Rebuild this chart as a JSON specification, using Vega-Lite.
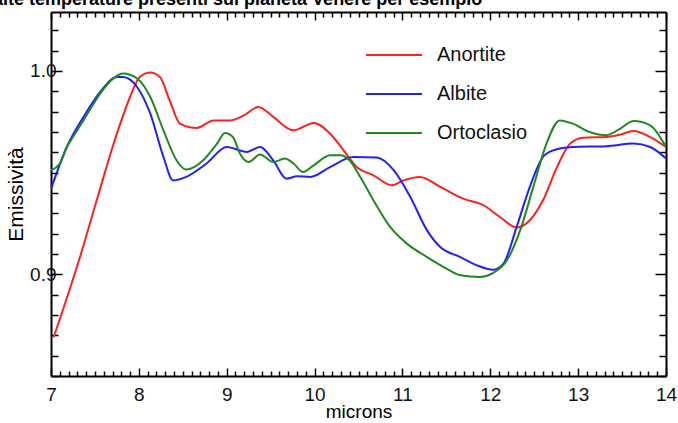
{
  "$schema": "https://vega.github.io/schema/vega-lite/v6.json",
  "width": 615,
  "height": 364,
  "autosize": {"type": "none"},
  "padding": {"left": 51, "top": 12, "right": 12, "bottom": 47},
  "background": "white",
  "title": {
    "text": "alte temperature presenti sul pianeta Venere per esempio",
    "anchor": "start",
    "orient": "top",
    "frame": "group",
    "offset": 0,
    "dy": -2,
    "dx": -58,
    "font": "Liberation Sans",
    "fontSize": 18,
    "fontWeight": "bold",
    "color": "#000000"
  },
  "config": {
    "view": {"stroke": null},
    "axis": {
      "domainColor": "#000000",
      "domainWidth": 2,
      "tickColor": "#000000",
      "tickWidth": 1.5,
      "labelFont": "Liberation Sans",
      "labelFontSize": 19,
      "labelColor": "#111111",
      "titleFont": "Liberation Sans",
      "titleFontSize": 20,
      "titleFontWeight": "normal",
      "titleColor": "#000000",
      "grid": false
    }
  },
  "data": {
    "values": [
      {"m": 7.03, "v": 0.869, "s": "Anortite"},
      {"m": 7.33, "v": 0.9085, "s": "Anortite"},
      {"m": 7.52, "v": 0.9364, "s": "Anortite"},
      {"m": 7.75, "v": 0.9692, "s": "Anortite"},
      {"m": 7.9, "v": 0.9872, "s": "Anortite"},
      {"m": 8.01, "v": 0.997, "s": "Anortite"},
      {"m": 8.13, "v": 0.9992, "s": "Anortite"},
      {"m": 8.24, "v": 0.997, "s": "Anortite"},
      {"m": 8.35, "v": 0.9856, "s": "Anortite"},
      {"m": 8.47, "v": 0.974, "s": "Anortite"},
      {"m": 8.66, "v": 0.972, "s": "Anortite"},
      {"m": 8.85, "v": 0.9757, "s": "Anortite"},
      {"m": 9.04, "v": 0.9757, "s": "Anortite"},
      {"m": 9.19, "v": 0.978, "s": "Anortite"},
      {"m": 9.36, "v": 0.9823, "s": "Anortite"},
      {"m": 9.53, "v": 0.9774, "s": "Anortite"},
      {"m": 9.76, "v": 0.9708, "s": "Anortite"},
      {"m": 9.99, "v": 0.9744, "s": "Anortite"},
      {"m": 10.18, "v": 0.969, "s": "Anortite"},
      {"m": 10.33, "v": 0.961, "s": "Anortite"},
      {"m": 10.48, "v": 0.9528, "s": "Anortite"},
      {"m": 10.67, "v": 0.9487, "s": "Anortite"},
      {"m": 10.88, "v": 0.9438, "s": "Anortite"},
      {"m": 11.01, "v": 0.9462, "s": "Anortite"},
      {"m": 11.2, "v": 0.9479, "s": "Anortite"},
      {"m": 11.43, "v": 0.943, "s": "Anortite"},
      {"m": 11.69, "v": 0.9372, "s": "Anortite"},
      {"m": 11.92, "v": 0.934, "s": "Anortite"},
      {"m": 12.11, "v": 0.9282, "s": "Anortite"},
      {"m": 12.3, "v": 0.923, "s": "Anortite"},
      {"m": 12.45, "v": 0.9266, "s": "Anortite"},
      {"m": 12.6, "v": 0.9364, "s": "Anortite"},
      {"m": 12.76, "v": 0.9528, "s": "Anortite"},
      {"m": 12.91, "v": 0.9643, "s": "Anortite"},
      {"m": 13.06, "v": 0.9672, "s": "Anortite"},
      {"m": 13.32, "v": 0.9675, "s": "Anortite"},
      {"m": 13.48, "v": 0.9687, "s": "Anortite"},
      {"m": 13.63, "v": 0.9705, "s": "Anortite"},
      {"m": 13.82, "v": 0.9675, "s": "Anortite"},
      {"m": 14.0, "v": 0.9626, "s": "Anortite"},

      {"m": 7.0, "v": 0.942, "s": "Albite"},
      {"m": 7.18, "v": 0.9626, "s": "Albite"},
      {"m": 7.37, "v": 0.9774, "s": "Albite"},
      {"m": 7.56, "v": 0.9897, "s": "Albite"},
      {"m": 7.75, "v": 0.997, "s": "Albite"},
      {"m": 7.82, "v": 0.997, "s": "Albite"},
      {"m": 7.98, "v": 0.9921, "s": "Albite"},
      {"m": 8.13, "v": 0.979, "s": "Albite"},
      {"m": 8.28, "v": 0.9577, "s": "Albite"},
      {"m": 8.39, "v": 0.9462, "s": "Albite"},
      {"m": 8.54, "v": 0.9479, "s": "Albite"},
      {"m": 8.77, "v": 0.9545, "s": "Albite"},
      {"m": 9.0, "v": 0.9626, "s": "Albite"},
      {"m": 9.23, "v": 0.9602, "s": "Albite"},
      {"m": 9.38, "v": 0.9626, "s": "Albite"},
      {"m": 9.53, "v": 0.956, "s": "Albite"},
      {"m": 9.68, "v": 0.947, "s": "Albite"},
      {"m": 9.8, "v": 0.9482, "s": "Albite"},
      {"m": 9.95, "v": 0.9479, "s": "Albite"},
      {"m": 10.18, "v": 0.9528, "s": "Albite"},
      {"m": 10.44, "v": 0.9577, "s": "Albite"},
      {"m": 10.71, "v": 0.9574, "s": "Albite"},
      {"m": 10.9, "v": 0.9512, "s": "Albite"},
      {"m": 11.09, "v": 0.938, "s": "Albite"},
      {"m": 11.28, "v": 0.9216, "s": "Albite"},
      {"m": 11.43, "v": 0.9134, "s": "Albite"},
      {"m": 11.66, "v": 0.9085, "s": "Albite"},
      {"m": 11.85, "v": 0.9044, "s": "Albite"},
      {"m": 12.03, "v": 0.9023, "s": "Albite"},
      {"m": 12.15, "v": 0.9053, "s": "Albite"},
      {"m": 12.3, "v": 0.9233, "s": "Albite"},
      {"m": 12.45, "v": 0.943, "s": "Albite"},
      {"m": 12.6, "v": 0.9577, "s": "Albite"},
      {"m": 12.72, "v": 0.961, "s": "Albite"},
      {"m": 12.94, "v": 0.9626, "s": "Albite"},
      {"m": 13.32, "v": 0.963, "s": "Albite"},
      {"m": 13.63, "v": 0.9643, "s": "Albite"},
      {"m": 13.82, "v": 0.9626, "s": "Albite"},
      {"m": 14.0, "v": 0.957, "s": "Albite"},

      {"m": 7.0, "v": 0.9512, "s": "Ortoclasio"},
      {"m": 7.1, "v": 0.9545, "s": "Ortoclasio"},
      {"m": 7.18, "v": 0.9626, "s": "Ortoclasio"},
      {"m": 7.25, "v": 0.9675, "s": "Ortoclasio"},
      {"m": 7.37, "v": 0.9757, "s": "Ortoclasio"},
      {"m": 7.56, "v": 0.9889, "s": "Ortoclasio"},
      {"m": 7.71, "v": 0.9963, "s": "Ortoclasio"},
      {"m": 7.82, "v": 0.9987, "s": "Ortoclasio"},
      {"m": 7.98, "v": 0.9963, "s": "Ortoclasio"},
      {"m": 8.13, "v": 0.9872, "s": "Ortoclasio"},
      {"m": 8.28, "v": 0.9708, "s": "Ortoclasio"},
      {"m": 8.43, "v": 0.956, "s": "Ortoclasio"},
      {"m": 8.54, "v": 0.9515, "s": "Ortoclasio"},
      {"m": 8.73, "v": 0.956, "s": "Ortoclasio"},
      {"m": 8.89, "v": 0.9643, "s": "Ortoclasio"},
      {"m": 8.98, "v": 0.9695, "s": "Ortoclasio"},
      {"m": 9.07, "v": 0.9675, "s": "Ortoclasio"},
      {"m": 9.15, "v": 0.9594, "s": "Ortoclasio"},
      {"m": 9.25, "v": 0.9552, "s": "Ortoclasio"},
      {"m": 9.38, "v": 0.9589, "s": "Ortoclasio"},
      {"m": 9.53, "v": 0.9552, "s": "Ortoclasio"},
      {"m": 9.66, "v": 0.9569, "s": "Ortoclasio"},
      {"m": 9.76, "v": 0.9545, "s": "Ortoclasio"},
      {"m": 9.87, "v": 0.9503, "s": "Ortoclasio"},
      {"m": 9.99, "v": 0.9536, "s": "Ortoclasio"},
      {"m": 10.18, "v": 0.9585, "s": "Ortoclasio"},
      {"m": 10.29, "v": 0.9585, "s": "Ortoclasio"},
      {"m": 10.4, "v": 0.956, "s": "Ortoclasio"},
      {"m": 10.52, "v": 0.9479, "s": "Ortoclasio"},
      {"m": 10.67, "v": 0.9364, "s": "Ortoclasio"},
      {"m": 10.86, "v": 0.9233, "s": "Ortoclasio"},
      {"m": 11.05, "v": 0.9151, "s": "Ortoclasio"},
      {"m": 11.28, "v": 0.9085, "s": "Ortoclasio"},
      {"m": 11.47, "v": 0.9036, "s": "Ortoclasio"},
      {"m": 11.66, "v": 0.8995, "s": "Ortoclasio"},
      {"m": 11.88, "v": 0.8987, "s": "Ortoclasio"},
      {"m": 12.03, "v": 0.9006, "s": "Ortoclasio"},
      {"m": 12.19, "v": 0.9069, "s": "Ortoclasio"},
      {"m": 12.34, "v": 0.9216, "s": "Ortoclasio"},
      {"m": 12.49, "v": 0.943, "s": "Ortoclasio"},
      {"m": 12.64, "v": 0.9643, "s": "Ortoclasio"},
      {"m": 12.79, "v": 0.9757, "s": "Ortoclasio"},
      {"m": 12.94, "v": 0.9741, "s": "Ortoclasio"},
      {"m": 13.13, "v": 0.97, "s": "Ortoclasio"},
      {"m": 13.32, "v": 0.9684, "s": "Ortoclasio"},
      {"m": 13.48, "v": 0.9717, "s": "Ortoclasio"},
      {"m": 13.63, "v": 0.9754, "s": "Ortoclasio"},
      {"m": 13.82, "v": 0.9733, "s": "Ortoclasio"},
      {"m": 14.0, "v": 0.9626, "s": "Ortoclasio"}
    ]
  },
  "layer": [
    {
      "mark": {"type": "line", "interpolate": "monotone", "strokeWidth": 2, "clip": true},
      "encoding": {
        "x": {
          "field": "m", "type": "quantitative",
          "scale": {"domain": [7, 14], "nice": false, "zero": false},
          "axis": {
            "orient": "bottom",
            "title": "microns",
            "titleFontSize": 19,
            "titlePadding": -5,
            "values": [7,7.1,7.2,7.3,7.4,7.5,7.6,7.7,7.8,7.9,8,8.1,8.2,8.3,8.4,8.5,8.6,8.7,8.8,8.9,9,9.1,9.2,9.3,9.4,9.5,9.6,9.7,9.8,9.9,10,10.1,10.2,10.3,10.4,10.5,10.6,10.7,10.8,10.9,11,11.1,11.2,11.3,11.4,11.5,11.6,11.7,11.8,11.9,12,12.1,12.2,12.3,12.4,12.5,12.6,12.7,12.8,12.9,13,13.1,13.2,13.3,13.4,13.5,13.6,13.7,13.8,13.9,14],
            "labelExpr": "abs(datum.value - round(datum.value)) < 0.001 ? format(datum.value, 'd') : ''",
            "labelFlush": false,
            "labelOverlap": false,
            "labelPadding": 17,
            "tickSize": {"condition": {"test": "abs(datum.value - round(datum.value)) < 0.001", "value": -8}, "value": -5}
          }
        },
        "y": {
          "field": "v", "type": "quantitative",
          "scale": {"domain": [0.85, 1.029], "nice": false, "zero": false},
          "axis": {
            "orient": "left",
            "title": "Emissività",
            "titleFontSize": 21,
            "titlePadding": 3,
            "values": [0.85,0.86,0.87,0.88,0.89,0.9,0.91,0.92,0.93,0.94,0.95,0.96,0.97,0.98,0.99,1.0,1.01,1.02],
            "labelExpr": "abs(datum.value - 0.9) < 0.0001 || abs(datum.value - 1.0) < 0.0001 ? format(datum.value, '.1f') : ''",
            "labelFlush": false,
            "labelOverlap": false,
            "labelPadding": 6,
            "tickSize": {"condition": {"test": "abs(datum.value - 0.9) < 0.0001 || abs(datum.value - 1.0) < 0.0001", "value": -11}, "value": -7}
          }
        },
        "color": {
          "field": "s", "type": "nominal",
          "scale": {"domain": ["Anortite", "Albite", "Ortoclasio"], "range": ["#ff2020", "#2020ff", "#1e8a1e"]},
          "legend": {
            "orient": "none",
            "legendX": 314,
            "legendY": 14,
            "title": null,
            "symbolType": "stroke",
            "symbolSize": 3136,
            "symbolStrokeWidth": 2,
            "rowPadding": -37,
            "labelOffset": 14,
            "labelFont": "Liberation Sans",
            "labelFontSize": 20,
            "labelColor": "#111111"
          }
        }
      }
    },
    {
      "mark": {"type": "line", "opacity": 0},
      "encoding": {
        "x": {
          "field": "m", "type": "quantitative",
          "axis": {
            "orient": "top",
            "title": null,
            "labels": false,
            "domainWidth": 2,
            "values": [7,7.1,7.2,7.3,7.4,7.5,7.6,7.7,7.8,7.9,8,8.1,8.2,8.3,8.4,8.5,8.6,8.7,8.8,8.9,9,9.1,9.2,9.3,9.4,9.5,9.6,9.7,9.8,9.9,10,10.1,10.2,10.3,10.4,10.5,10.6,10.7,10.8,10.9,11,11.1,11.2,11.3,11.4,11.5,11.6,11.7,11.8,11.9,12,12.1,12.2,12.3,12.4,12.5,12.6,12.7,12.8,12.9,13,13.1,13.2,13.3,13.4,13.5,13.6,13.7,13.8,13.9,14],
            "tickSize": {"condition": {"test": "abs(datum.value - round(datum.value)) < 0.001", "value": -8}, "value": -5}
          }
        },
        "y": {
          "field": "v", "type": "quantitative",
          "axis": {
            "orient": "right",
            "title": null,
            "labels": false,
            "values": [0.85,0.86,0.87,0.88,0.89,0.9,0.91,0.92,0.93,0.94,0.95,0.96,0.97,0.98,0.99,1.0,1.01,1.02],
            "tickSize": {"condition": {"test": "abs(datum.value - 0.9) < 0.0001 || abs(datum.value - 1.0) < 0.0001", "value": -11}, "value": -7}
          }
        },
        "detail": {"field": "s", "type": "nominal"}
      }
    }
  ],
  "resolve": {"axis": {"x": "independent", "y": "independent"}}
}
